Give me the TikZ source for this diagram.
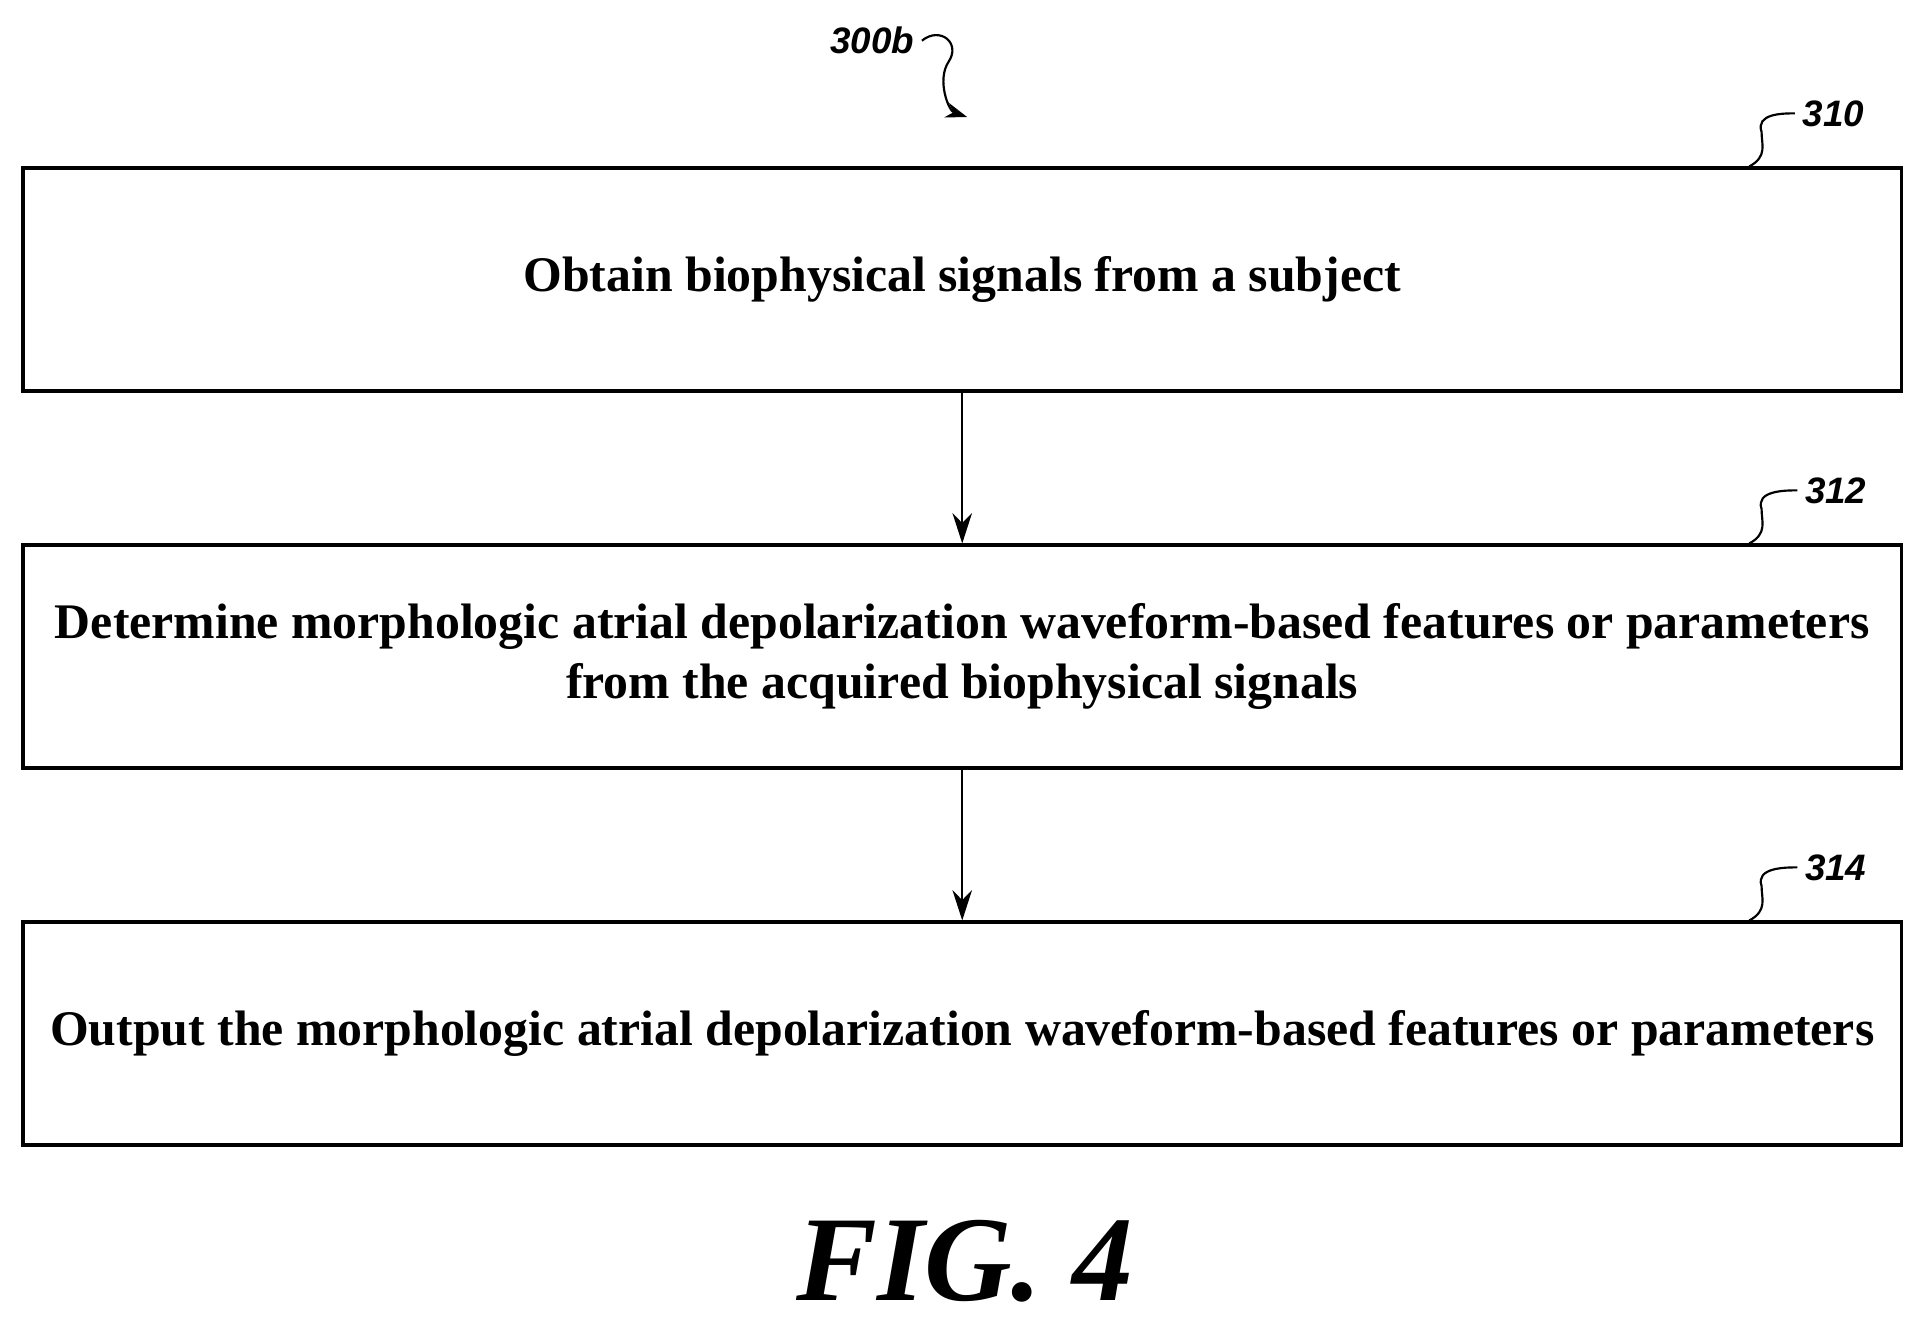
\documentclass[tikz,border=0pt]{standalone}
\usepackage{fontspec}
\setmainfont{Liberation Serif}
\newfontfamily\lsans{Liberation Sans}
\usetikzlibrary{arrows.meta}
\begin{document}
\begin{tikzpicture}[x=0.02cm,y=-0.02cm,
  boxst/.style={draw,line width=1.6pt,minimum width=30.5cm,minimum height=3.62cm,inner sep=0pt,align=center,font=\fontsize{23}{27.5}\selectfont\bfseries},
  refl/.style={font=\lsans\fontsize{17}{20}\selectfont\bfseries\itshape},
  arr/.style={-{Stealth[length=14pt,width=9pt]},line width=1pt},
  sq/.style={line width=1pt}]
\useasboundingbox (0,0) rectangle (1560,1080);
\node[boxst] (b1) at (781,227) {Obtain biophysical signals from a subject};
\node[boxst] (b2) at (781,533) {Determine morphologic atrial depolarization waveform-based features or parameters\\from the acquired biophysical signals};
\node[boxst] (b3) at (781,839) {Output the morphologic atrial depolarization waveform-based features or parameters};
\draw[arr] (b1.south) -- (b2.north);
\draw[arr] (b2.south) -- (b3.north);
\node[refl] (l310) at (1488,92) {310};
\node[refl] (l312) at (1490,398) {312};
\node[refl] (l314) at (1490,704) {314};
\foreach \b/\l in {b1/l310,b2/l312,b3/l314}{
  \draw[sq] ([xshift=-2.5cm]\b.north east) .. controls +(15,-8) and +(0,10) .. +(10,-28) .. controls +(-5,-15) and +(-10,0) .. (\l.west);
}
\node[refl] (l300) at (708,33) {300b};
\coordinate (t300) at (785,95);
\draw[sq,-{Stealth[length=10pt,width=7pt]}] (l300.east) .. controls +(15,-12) and +(10,-15) .. (770,50) .. controls +(-10,15) and +(-15,-5) .. (t300);
\node[font=\fontsize{56}{64}\selectfont\bfseries\itshape] (fig) at (783,1024) {FIG. 4};
\end{tikzpicture}
\end{document}
